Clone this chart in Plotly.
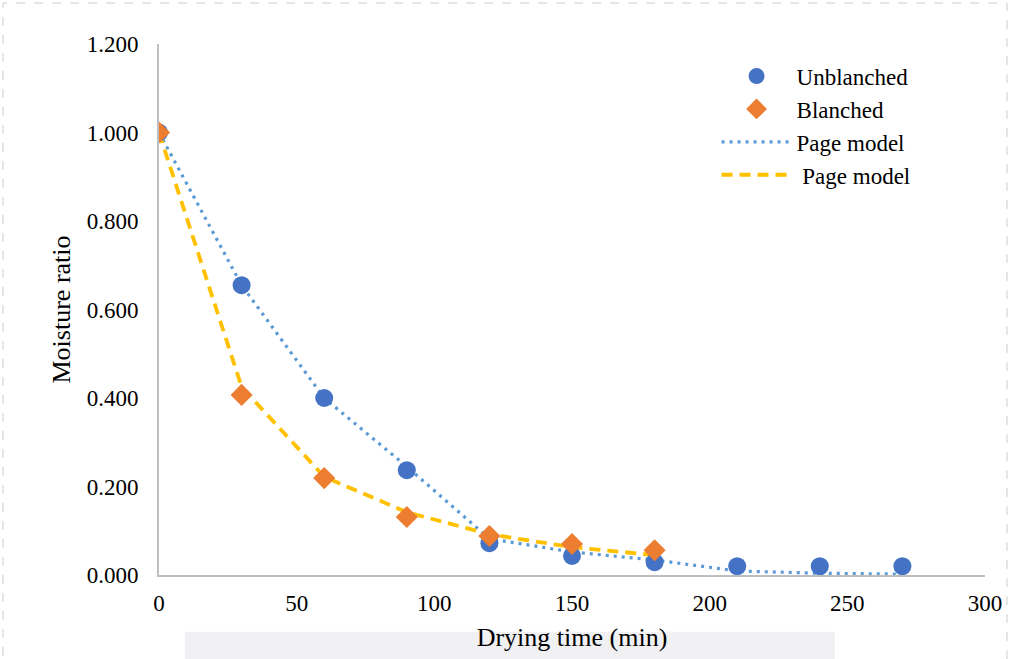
import plotly.graph_objects as go

time_unbl = [0, 30, 60, 90, 120, 150, 180, 210, 240, 270]
mr_unbl = [1.000, 0.655, 0.400, 0.237, 0.072, 0.043, 0.029, 0.020, 0.020, 0.020]
page_unbl = [1.000, 0.655, 0.400, 0.245, 0.082, 0.052, 0.034, 0.009, 0.004, 0.002]

time_bl = [0, 30, 60, 90, 120, 150, 180]
mr_bl = [1.000, 0.407, 0.219, 0.131, 0.088, 0.070, 0.056]
page_bl = [1.000, 0.425, 0.222, 0.142, 0.092, 0.063, 0.045]

x_ticks = [0, 50, 100, 150, 200, 250, 300]
y_ticks = [0.0, 0.2, 0.4, 0.6, 0.8, 1.0, 1.2]

FONT = "Liberation Serif"

fig = go.Figure()
fig.add_trace(go.Scatter(x=time_unbl, y=page_unbl, mode="lines", name="Page model",
                         legendgroup="c", legendrank=3,
                         line=dict(color="#5B9BD5", width=3.2, dash="3px,5px")))
fig.add_trace(go.Scatter(x=time_bl, y=page_bl, mode="lines", name=" Page model",
                         legendgroup="d", legendrank=4,
                         line=dict(color="#FFC000", width=3.8, dash="11px,7px")))
fig.add_trace(go.Scatter(x=time_unbl, y=mr_unbl, mode="markers", name="Unblanched",
                         legendgroup="a", legendrank=1,
                         marker=dict(symbol="circle", size=18, color="#4472C4")))
fig.add_trace(go.Scatter(x=time_bl, y=mr_bl, mode="markers", name="Blanched",
                         legendgroup="b", legendrank=2,
                         marker=dict(symbol="diamond", size=17, color="#ED7D31")))

fig.update_layout(
    width=1010, height=659, autosize=False,
    margin=dict(l=159, r=25, t=44, b=84),
    paper_bgcolor="white", plot_bgcolor="white",
    font=dict(family=FONT, size=22, color="black"),
    showlegend=True,
    legend=dict(x=0.675, y=0.98, xanchor="left", yanchor="top",
                font=dict(family=FONT, size=23), traceorder="normal",
                itemwidth=70, tracegroupgap=4, bgcolor="rgba(0,0,0,0)"),
    xaxis=dict(range=[0, 300], tickvals=x_ticks, showgrid=False, zeroline=False,
               showline=True, linecolor="#BFBFBF", linewidth=2, automargin=False,
               ticks="outside", ticklen=6, tickcolor="rgba(0,0,0,0)",
               tickfont=dict(family=FONT, size=23),
               title=dict(text="Drying time (min)", font=dict(family=FONT, size=26), standoff=13)),
    yaxis=dict(range=[0, 1.2], tickvals=y_ticks, tickformat=".3f", showgrid=False,
               zeroline=False, showline=True, linecolor="#BFBFBF", linewidth=2, automargin=False,
               ticks="outside", ticklen=14, tickcolor="rgba(0,0,0,0)",
               tickfont=dict(family=FONT, size=23),
               title=dict(text="Moisture ratio", font=dict(family=FONT, size=26), standoff=9)),
    shapes=[
        dict(type="rect", xref="paper", yref="paper", x0=-0.1889, x1=1.0266,
             y0=-0.2, y1=1.0772, line=dict(color="#CCCCCC", width=1, dash="dash"),
             fillcolor="rgba(0,0,0,0)", layer="below"),
        dict(type="rect", xref="paper", yref="paper", x0=0.0315, x1=0.818,
             y0=-0.2, y1=-0.107, line=dict(width=0),
             fillcolor="#F1F1F3", layer="below"),
    ],
)

fig.write_html(
    "out.html",
    config={"displayModeBar": False, "responsive": False},
    post_script="document.body.style.margin='0';document.documentElement.style.overflow='hidden';",
)
